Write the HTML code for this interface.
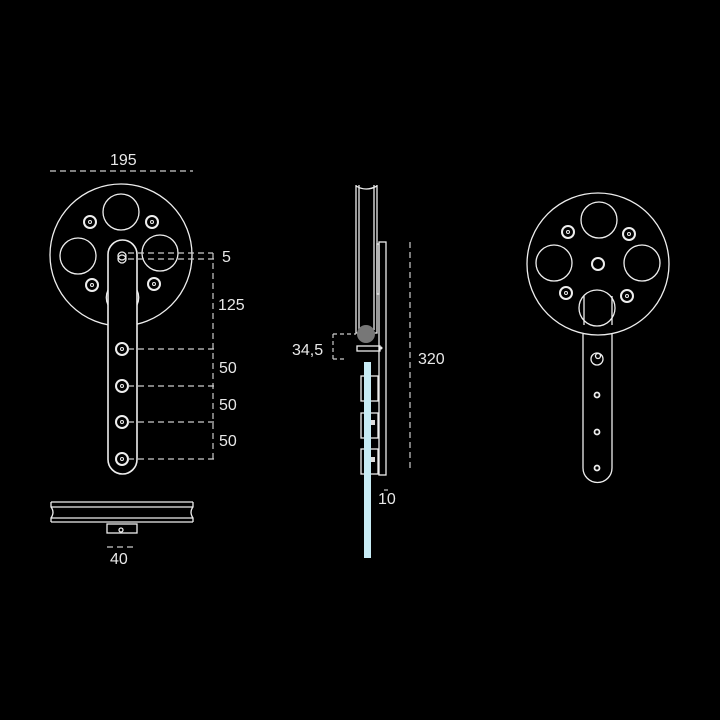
<!DOCTYPE html>
<html><head><style>body{margin:0;background:#000}svg{display:block}text{font-family:"Liberation Sans",sans-serif;fill:#e8e8e8;font-size:16px}</style></head><body>
<svg width="720" height="720" viewBox="0 0 720 720" xmlns="http://www.w3.org/2000/svg">
<rect width="720" height="720" fill="#000"/>
<g fill="none" stroke="#eee" stroke-width="1.3">
<circle cx="121" cy="255" r="71"/>
<circle cx="121" cy="212" r="18"/>
<circle cx="78" cy="256" r="18"/>
<circle cx="160" cy="253" r="18"/>
<path d="M108 290 A18 18 0 0 0 108 305 M137 290 A18 18 0 0 1 137 305"/>
<g stroke-width="2"><circle cx="90" cy="222" r="6"/><circle cx="152" cy="222" r="6"/><circle cx="92" cy="285" r="6"/><circle cx="154" cy="284" r="6"/></g>
<g stroke-width="1"><circle cx="90" cy="222" r="1.5"/><circle cx="152" cy="222" r="1.5"/><circle cx="92" cy="285" r="1.5"/><circle cx="154" cy="284" r="1.5"/></g>
<rect x="108" y="240" width="29" height="234" rx="14.5" fill="#000" stroke-width="1.6"/>
<circle cx="122" cy="256" r="4"/><circle cx="122" cy="259" r="4"/>
<g stroke-width="2"><circle cx="122" cy="349" r="6"/><circle cx="122" cy="386" r="6"/><circle cx="122" cy="422" r="6"/><circle cx="122" cy="459" r="6"/></g>
<g stroke-width="1"><circle cx="122" cy="349" r="1.5"/><circle cx="122" cy="386" r="1.5"/><circle cx="122" cy="422" r="1.5"/><circle cx="122" cy="459" r="1.5"/></g>
<path d="M51 502 H193 M51 507 H193 M51 518 H193 M51 522 H193 M51 502 V507 Q55 512 51 518 V522 M193 502 V507 Q189 512 193 518 V522"/>
<rect x="107" y="524" width="30" height="9"/>
<circle cx="121" cy="530" r="2"/>
<path d="M356 185 V333 H377 V185 M359 185 V330 M374 185 V330 M356 186 Q366 192 377 186"/>
<rect x="379" y="242" width="7" height="233"/>
<rect x="377" y="244" width="2" height="50"/>
<rect x="357" y="346" width="23" height="5"/>
<rect x="361" y="376" width="17" height="25"/>
<rect x="361" y="413" width="17" height="25"/>
<rect x="361" y="449" width="17" height="25"/>
<circle cx="598" cy="264" r="71"/>
<circle cx="599" cy="220" r="18"/>
<circle cx="554" cy="263" r="18"/>
<circle cx="642" cy="263" r="18"/>
<circle cx="597" cy="308" r="18"/>
<path d="M584 296 V325 M612 296 V325"/>
<circle cx="598" cy="264" r="6" stroke-width="2"/>
<g stroke-width="2"><circle cx="568" cy="232" r="6"/><circle cx="629" cy="234" r="6"/><circle cx="566" cy="293" r="6"/><circle cx="627" cy="296" r="6"/></g>
<g stroke-width="1"><circle cx="568" cy="232" r="1.5"/><circle cx="629" cy="234" r="1.5"/><circle cx="566" cy="293" r="1.5"/><circle cx="627" cy="296" r="1.5"/></g>
<path d="M583 334 V468 A14.5 14.5 0 0 0 612 468 V334"/>
<circle cx="597" cy="359" r="6"/><circle cx="598" cy="356" r="2.5"/>
<circle cx="597" cy="395" r="2.5" stroke-width="1.8"/><circle cx="597" cy="432" r="2.5" stroke-width="1.8"/><circle cx="597" cy="468" r="2.5" stroke-width="1.8"/>
</g>
<rect x="364" y="362" width="7" height="196" fill="#c8ecf5"/>
<rect x="371" y="420" width="4" height="5" fill="#ddd"/><rect x="371" y="457" width="4" height="5" fill="#ddd"/>
<circle cx="366" cy="334" r="9" fill="#777"/>
<circle cx="381" cy="348" r="1.5" fill="#eee"/>
<g fill="none" stroke="#ccc" stroke-width="1.2" stroke-dasharray="6,4">
<path d="M50 171 H193"/>
<path d="M128 253 H213 M128 259 H216 M213 253 V459"/>
<path d="M128 349 H217 M128 386 H217 M128 422 H217 M128 459 H217"/>
<path d="M107 547 H133"/>
<path d="M410 242 V472"/>
<path d="M333 334 H356 M333 359 H346 M333 334 V359" stroke-dasharray="4,3"/>
<path d="M384 490 H388"/>
</g>
<text x="110" y="165">195</text>
<text x="222" y="262">5</text>
<text x="218" y="310">125</text>
<text x="219" y="373">50</text>
<text x="219" y="410">50</text>
<text x="219" y="446">50</text>
<text x="110" y="564">40</text>
<text x="292" y="355">34,5</text>
<text x="418" y="364">320</text>
<text x="378" y="504">10</text>
</svg>
</body></html>
